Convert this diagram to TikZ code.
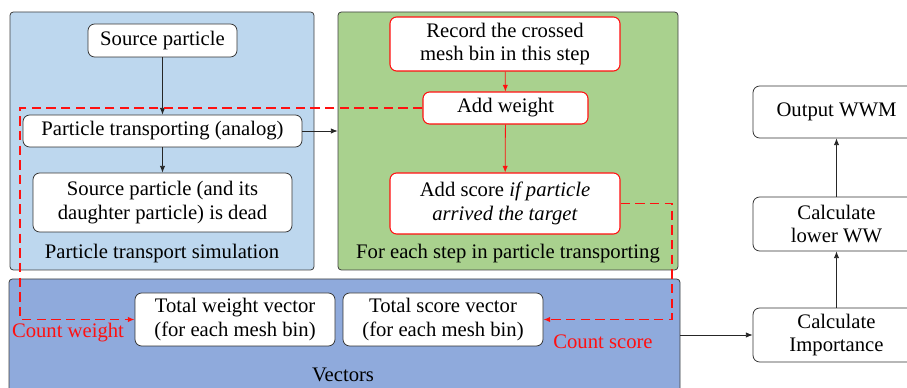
\documentclass[tikz,border=0pt]{standalone}
\usepackage{fontspec}
\setmainfont{Liberation Serif}
\usetikzlibrary{arrows.meta}
\definecolor{simblue}{HTML}{BDD7EE}
\definecolor{stepgreen}{HTML}{A9D18E}
\definecolor{vecblue}{HTML}{8FAADC}
\definecolor{countred}{HTML}{FF1010}
\tikzset{
  panel/.style={draw=black!75, line width=0.6pt, rounded corners=2.5pt, inner sep=0pt},
  box/.style={draw=black!80, fill=white, line width=0.6pt, rounded corners=5pt, align=center, inner sep=0pt},
  redbox/.style={box, draw=countred, line width=0.8pt},
  flow/.style={-{Latex[length=5pt,width=4pt]}, line width=0.6pt, color=black!85},
  redflow/.style={-{Latex[length=5pt,width=4pt]}, line width=0.6pt, color=countred},
  count/.style={redflow, line width=0.9pt, dash pattern=on 7pt off 4pt},
}
\begin{document}
\begin{tikzpicture}[x=0.75pt, y=-0.75pt, font=\fontsize{15.5}{17.5}\selectfont]
  \useasboundingbox (0,0) rectangle (907,388);
  \clip (0,0) rectangle (907,388);
  % panels
  \node[panel, fill=simblue, minimum width=228pt, minimum height=193.5pt] (sim) at (162,141) {};
  \node[panel, fill=stepgreen, minimum width=255pt, minimum height=193.5pt] (step) at (508,141) {};
  \node[panel, fill=vecblue, minimum width=503.25pt, minimum height=90.75pt] (vec) at (344.5,339.5) {};
  \node (simlabel) at (162,254) {Particle transport simulation};
  \node (steplabel) at (508,254) {For each step in particle transporting};
  \node (veclabel) at (343,375) {Vectors};
  % particle transport simulation
  \node[box, minimum width=111.75pt, minimum height=24.75pt] (src) at (162.5,40.5) {Source particle};
  \node[box, minimum width=209.25pt, minimum height=24pt] (trans) at (162.5,131) {Particle transporting (analog)};
  \node[box, minimum width=194.25pt, minimum height=44.25pt] (dead) at (162.5,202.5) {Source particle (and its\\daughter particle) is dead};
  \draw[flow] (src) -- (trans);
  \draw[flow] (trans) -- (dead);
  \draw[flow] (trans.east) -- (trans.east -| step.west);
  % each step
  \node[redbox, minimum width=172.5pt, minimum height=40.5pt] (rec) at (505,44) {Record the crossed\\mesh bin in this step};
  \node[redbox, minimum width=123.75pt, minimum height=24pt] (addw) at (505.5,108) {Add weight};
  \node[redbox, minimum width=172.5pt, minimum height=45.75pt] (adds) at (505,203.5) {Add score \textit{if particle}\\\textit{arrived the target}};
  \draw[redflow] (rec) -- (addw);
  \draw[redflow] (addw) -- (adds);
  % vectors
  \node[box, minimum width=150pt, minimum height=39.75pt] (totw) at (235,319.5) {Total weight vector\\(for each mesh bin)};
  \node[box, minimum width=150pt, minimum height=39.75pt] (tots) at (443,319.5) {Total score vector\\(for each mesh bin)};
  \coordinate (wbend) at (20,319.5);
  \coordinate (sbend) at (672,319.5);
  \draw[count] (addw.west) -| (wbend) -- (totw.west);
  \draw[count] (adds.east) -| (sbend) -- (tots.east);
  \node[text=countred] (cw) at (68,333) {Count weight};
  \node[text=countred] (cs) at (603,342) {Count score};
  % weight window
  \node[box, minimum width=125.25pt, minimum height=39pt] (out) at (836.5,112) {Output WWM};
  \node[box, minimum width=125.25pt, minimum height=40.5pt] (low) at (836.5,224) {Calculate\\lower WW};
  \node[box, minimum width=125.25pt, minimum height=40.5pt] (imp) at (836.5,335) {Calculate\\Importance};
  \draw[flow] (imp.west -| vec.east) -- (imp.west);
  \draw[flow] (imp) -- (low);
  \draw[flow] (low) -- (out);
\end{tikzpicture}
\end{document}
